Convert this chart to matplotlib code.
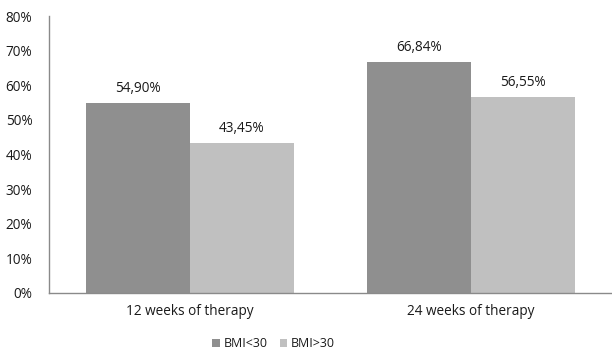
import matplotlib.pyplot as plt
import numpy as np

plt.rcParams['font.family'] = ['Open Sans', 'DejaVu Sans']

# response rate by BMI group
categories = ['12 weeks of therapy', '24 weeks of therapy']
bmi_under = [54.90, 66.84]
bmi_over = [43.45, 56.55]
series_names = ['BMI<30', 'BMI>30']

x = np.arange(len(categories))
w = 0.37

fig = plt.figure(figsize=(6.12, 3.56), dpi=100)
ax = fig.add_axes([0.08, 0.177, 0.92, 0.778])

b1 = ax.bar(x - w / 2, bmi_under, w, color='#8f8f8f', label=series_names[0])
b2 = ax.bar(x + w / 2, bmi_over, w, color='#c0c0c0', label=series_names[1])

# value labels with comma decimals
for bars, vals in [(b1, bmi_under), (b2, bmi_over)]:
    for rect, v in zip(bars, vals):
        ax.text(rect.get_x() + rect.get_width() / 2, v + 2.0,
                f'{v:.2f}%'.replace('.', ','), ha='center', va='bottom',
                fontsize=9.8, color='#1a1a1a')

ax.set_xlim(-0.5, 1.5)
ax.set_ylim(0, 80)
ax.set_yticks(range(0, 81, 10))
ax.set_yticklabels([f'{t}%' for t in range(0, 81, 10)])
ax.set_xticks(x)
ax.set_xticklabels(categories)
ax.tick_params(axis='both', length=0, labelsize=9.8, colors='#1a1a1a')
ax.tick_params(axis='y', pad=12)
ax.tick_params(axis='x', pad=8)

for s in ['top', 'right']:
    ax.spines[s].set_visible(False)
for s in ['left', 'bottom']:
    ax.spines[s].set_color('#8a8a8a')
    ax.spines[s].set_linewidth(1)

fig.legend(loc='lower center', ncol=2, frameon=False, fontsize=9,
           bbox_to_anchor=(0.447, -0.015), handlelength=0.6, handleheight=0.6,
           handletextpad=0.3, columnspacing=1.0, labelcolor='#1a1a1a')

plt.savefig('out.png', dpi=100)
